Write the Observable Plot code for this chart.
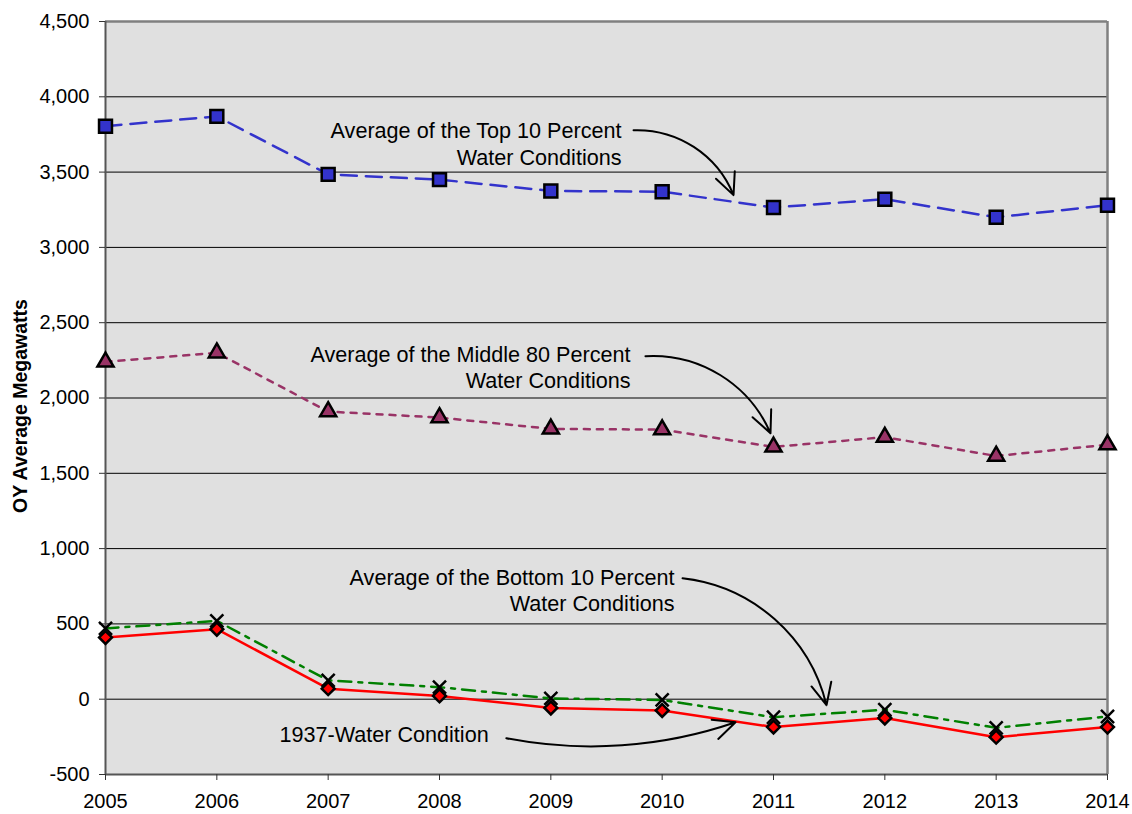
<!DOCTYPE html>
<html><head><meta charset="utf-8">
<script src="https://cdn.jsdelivr.net/npm/d3@7"></script>
<script src="https://cdn.jsdelivr.net/npm/@observablehq/plot@0.6"></script>
<style>
body{margin:0;background:#fff;}
</style></head><body><div id="chart"></div>
<script>
const years = [2005, 2006, 2007, 2008, 2009, 2010, 2011, 2012, 2013, 2014];
const top10 = [3805, 3870, 3485, 3450, 3375, 3370, 3265, 3320, 3200, 3280];
const middle80 = [2240, 2300, 1910, 1870, 1795, 1790, 1675, 1740, 1615, 1690];
const bottom10 = [470, 520, 125, 80, 5, -5, -120, -70, -190, -115];
const water1937 = [410, 465, 70, 22, -58, -75, -185, -125, -252, -185];
const yTicks = [-500, 0, 500, 1000, 1500, 2000, 2500, 3000, 3500, 4000, 4500];
const yLabel = "OY Average Megawatts";

const endTexts = [
  {text: "Average of the Top 10 Percent\nWater Conditions", x: 2009.635, y: 3692},
  {text: "Average of the Middle 80 Percent\nWater Conditions", x: 2009.716, y: 2208},
  {text: "Average of the Bottom 10 Percent\nWater Conditions", x: 2010.111, y: 727}
];
const startTexts = [{text: "1937-Water Condition", x: 2006.562, y: -239}];
const cwArrows = [
  {x1: 2009.743, y1: 3778, x2: 2010.641, y2: 3347},
  {x1: 2009.850, y1: 2278, x2: 2010.973, y2: 1766},
  {x1: 2010.183, y1: 803, x2: 2011.476, y2: -40}
];
const ccwArrows = [{x1: 2008.600, y1: -259, x2: 2010.659, y2: -153}];

const rows = (vals) => years.map((x, i) => ({x, y: vals[i]}));
const fmt = d => (d < 0 ? "-" : "") + d3.format(",")(Math.abs(d));

const chart = Plot.plot({
  width: 1132,
  height: 814,
  marginLeft: 105,
  marginRight: 25,
  marginTop: 21,
  marginBottom: 40,
  style: {fontFamily: "'Liberation Sans', Arial, sans-serif", fontSize: "20px", background: "#fff"},
  x: {domain: [2005, 2014]},
  y: {domain: [-500, 4500]},
  marks: [
    Plot.frame({fill: "#e0e0e0", stroke: "none"}),
    Plot.gridY(yTicks.filter(d => d > -500 && d < 4500), {stroke: "#000", strokeOpacity: 1, strokeWidth: 1}),
    Plot.ruleY([4500], {stroke: "#808080", strokeWidth: 2.5}),
    Plot.ruleX([2014], {stroke: "#808080", strokeWidth: 2.5}),
    Plot.ruleX([2005], {stroke: "#555", strokeWidth: 2}),
    Plot.ruleY([-500], {stroke: "#555", strokeWidth: 2}),
    Plot.axisY(yTicks, {tickSize: 6, tickPadding: 10, tickFormat: fmt, label: null, stroke: "#333"}),
    Plot.axisX(years, {tickSize: 6, tickPadding: 13, tickFormat: d => String(d), label: null, stroke: "#333"}),
    Plot.text([yLabel], {frameAnchor: "left", textAnchor: "middle", rotate: -90, dx: -85, dy: 8, text: d => d, fontSize: 19.5, fontWeight: "bold", fill: "#000"}),
    Plot.line(rows(top10), {x: "x", y: "y", stroke: "#3333cc", strokeWidth: 2.5, strokeDasharray: "16,9"}),
    Plot.line(rows(middle80), {x: "x", y: "y", stroke: "#993366", strokeWidth: 2.5, strokeDasharray: "6,7"}),
    Plot.line(rows(water1937), {x: "x", y: "y", stroke: "#ff0000", strokeWidth: 2.5}),
    Plot.line(rows(bottom10), {x: "x", y: "y", stroke: "#008000", strokeWidth: 2.5, strokeDasharray: "13,7,4,7"}),
    Plot.dot(rows(top10), {x: "x", y: "y", symbol: "square", r: 7.3, fill: "#3333cc", stroke: "#000", strokeWidth: 2.5}),
    Plot.dot(rows(middle80), {x: "x", y: "y", symbol: "triangle", r: 6, fill: "#993366", stroke: "#000", strokeWidth: 2.5}),
    Plot.dot(rows(water1937), {x: "x", y: "y", symbol: "diamond2", r: 5.8, fill: "#ff0000", stroke: "#000", strokeWidth: 2.5}),
    Plot.dot(rows(bottom10), {x: "x", y: "y", symbol: "times", r: 6, stroke: "#000", strokeWidth: 2.5}),
    Plot.text(endTexts, {x: "x", y: "y", text: "text", textAnchor: "end", lineAnchor: "middle", lineHeight: 1.22, fontSize: 21.6, fill: "#000"}),
    Plot.text(startTexts, {x: "x", y: "y", text: "text", textAnchor: "start", lineAnchor: "middle", fontSize: 21.6, fill: "#000"}),
    Plot.arrow(cwArrows, {x1: "x1", y1: "y1", x2: "x2", y2: "y2", bend: 35, stroke: "#000", strokeWidth: 2, headLength: 18, headAngle: 50}),
    Plot.arrow(ccwArrows, {x1: "x1", y1: "y1", x2: "x2", y2: "y2", bend: -15, stroke: "#000", strokeWidth: 2, headLength: 18, headAngle: 50})
  ]
});
document.getElementById("chart").appendChild(chart);
</script></body></html>
